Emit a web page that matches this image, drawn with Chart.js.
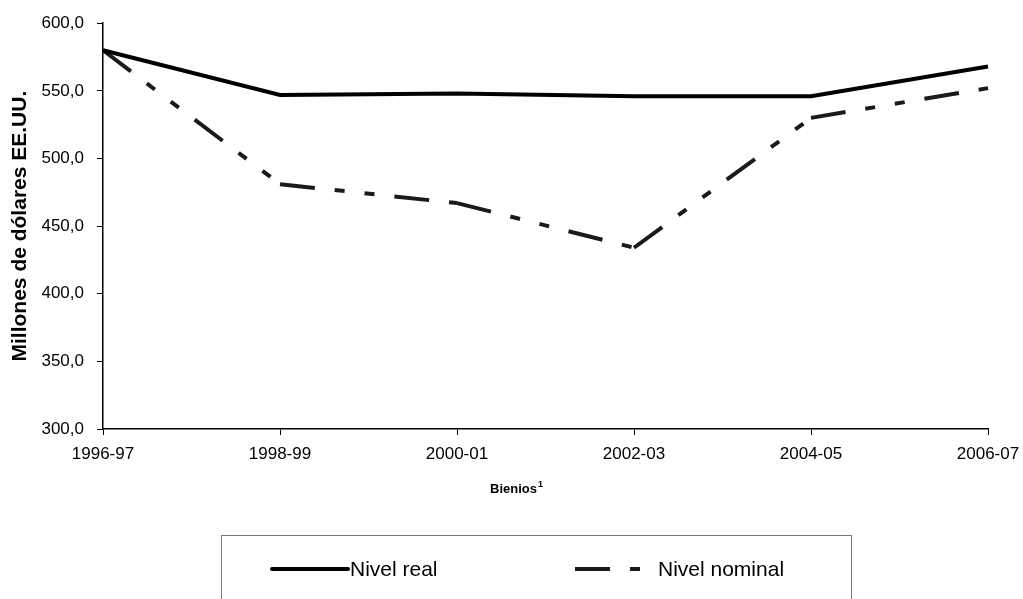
<!DOCTYPE html>
<html lang="es">
<head>
    <meta charset="UTF-8">
    <title>Nivel real y nominal</title>
    <script src="https://cdn.jsdelivr.net/npm/chart.js"></script>
    <style>
        body { margin: 0; background: #ffffff; }
        #chart { display: block; }
    </style>
</head>
<body>
    <canvas id="chart" width="1023" height="599"></canvas>

    <script>
        // data
        const categories = ['1996-97', '1998-99', '2000-01', '2002-03', '2004-05', '2006-07'];
        const nivelReal = [580, 547, 548, 546, 546, 568];
        const nivelNominal = [580, 481, 467, 434, 530, 552];
        const seriesLabels = ['Nivel real', 'Nivel nominal'];
        const yMin = 300, yMax = 600, yStep = 50;

        const FONT = "'Liberation Sans', Arial, sans-serif";
        // long - short - short, restarted on every segment like the original
        const nominalDash = [35, 20, 10, 20, 10, 20];

        // legend box + x-axis caption with superscript
        const extras = {
            id: 'extras',
            afterDraw(chart) {
                const ctx = chart.ctx;
                ctx.save();

                // "Bienios¹"
                ctx.fillStyle = '#000';
                ctx.textBaseline = 'alphabetic';
                ctx.textAlign = 'left';
                ctx.font = 'bold 13px ' + FONT;
                const word = 'Bienios';
                const w = ctx.measureText(word).width;
                const bx = 490, by = 493;
                ctx.fillText(word, bx, by);
                ctx.font = 'bold 9px ' + FONT;
                ctx.fillText('1', bx + w + 1, by - 6);

                // legend
                ctx.strokeStyle = '#777';
                ctx.lineWidth = 1;
                ctx.strokeRect(221.5, 535.5, 630, 90);

                const ly = 569;
                const sets = chart.data.datasets;
                ctx.lineWidth = 4;
                ctx.strokeStyle = '#000';
                ctx.lineCap = 'round';
                ctx.setLineDash([]);
                ctx.beginPath();
                ctx.moveTo(272, ly);
                ctx.lineTo(348, ly);
                ctx.stroke();

                ctx.lineCap = 'butt';
                ctx.strokeStyle = '#1a1a1a';
                ctx.setLineDash(nominalDash);
                ctx.beginPath();
                ctx.moveTo(575, ly);
                ctx.lineTo(641, ly);
                ctx.stroke();
                ctx.setLineDash([]);

                ctx.fillStyle = '#000';
                ctx.font = '21px ' + FONT;
                ctx.textBaseline = 'middle';
                ctx.fillText(sets[0].label, 350, ly + 1);
                ctx.fillText(sets[1].label, 658, ly + 1);

                ctx.restore();
            }
        };

        new Chart(document.getElementById('chart'), {
            type: 'line',
            data: {
                labels: categories,
                datasets: [{
                    label: seriesLabels[0],
                    data: nivelReal,
                    borderColor: '#000',
                    borderWidth: 4,
                    pointRadius: 0,
                    tension: 0,
                    fill: false
                }, {
                    label: seriesLabels[1],
                    data: nivelNominal,
                    borderColor: '#1a1a1a',
                    borderWidth: 4,
                    borderDash: nominalDash,
                    borderCapStyle: 'butt',
                    pointRadius: 0,
                    tension: 0,
                    fill: false,
                    // tiny per-segment offset so each segment is stroked on its own
                    segment: { borderDashOffset: c => c.p0DataIndex * 0.001 }
                }]
            },
            options: {
                responsive: false,
                animation: false,
                layout: { padding: { left: 0, top: 22, right: 0, bottom: 110 } },
                plugins: {
                    legend: { display: false },
                    tooltip: { enabled: false }
                },
                scales: {
                    x: {
                        offset: false,
                        grid: { drawOnChartArea: false, drawTicks: true, tickLength: 6, color: '#000' },
                        border: { display: true, color: '#000', width: 1.5 },
                        ticks: { color: '#000', font: { family: FONT, size: 17 }, padding: 9, maxRotation: 0, autoSkip: false },
                        afterFit(scale) {
                            scale.height = 60;
                            scale.paddingLeft = 0;
                            scale.paddingRight = 35;
                        }
                    },
                    y: {
                        min: yMin,
                        max: yMax,
                        grid: { drawOnChartArea: false, drawTicks: true, tickLength: 6, color: '#000' },
                        border: { display: true, color: '#000', width: 1.5 },
                        ticks: {
                            stepSize: yStep,
                            color: '#000',
                            padding: 13,
                            font: { family: FONT, size: 17 },
                            callback: v => v.toFixed(1).replace('.', ',')
                        },
                        title: {
                            display: true,
                            text: 'Millones de dólares EE.UU.',
                            color: '#000',
                            font: { family: FONT, size: 21, weight: 'bold' },
                            padding: { top: 8, bottom: 0 }
                        },
                        afterFit(scale) { scale.width = 103; }
                    }
                }
            },
            plugins: [extras]
        });
    </script>
</body>
</html>
